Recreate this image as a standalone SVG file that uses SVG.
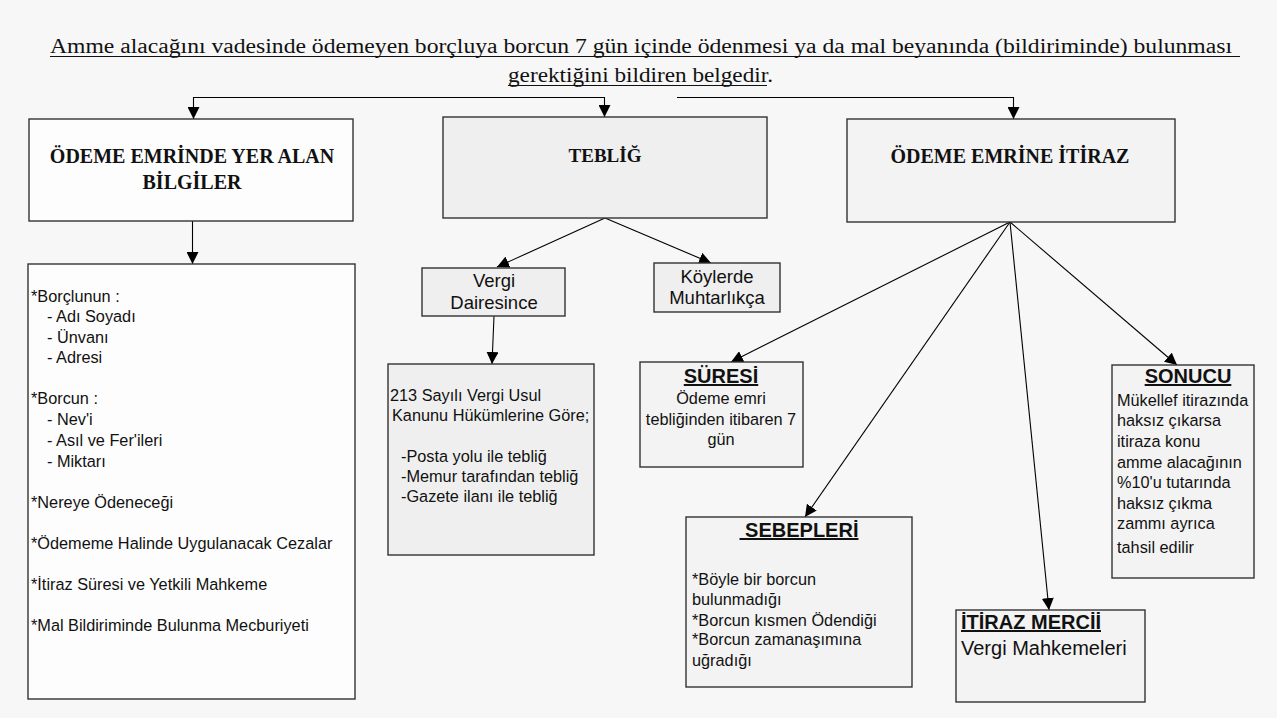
<svg xmlns="http://www.w3.org/2000/svg" width="1277" height="718" viewBox="0 0 1277 718">
  <defs>
    <marker id="arrow" viewBox="0 0 10 10" refX="10" refY="5" markerWidth="12" markerHeight="12" markerUnits="userSpaceOnUse" orient="auto">
      <path d="M0,0 L10,5 L0,10 z" fill="#000"/>
    </marker>
    <style>
      .box { stroke: #333; stroke-width: 1.4; }
      .white { fill: #fdfdfd; }
      .grey { fill: #efefef; }
      .light { fill: #f3f3f3; }
      .head { font-family: "Liberation Serif", "Times New Roman", serif; font-weight: bold; font-size: 20px; fill: #111; text-anchor: middle; }
      .title { font-family: "Liberation Serif", "Times New Roman", serif; font-size: 20px; fill: #111; }
      .body { font-family: "Liberation Sans", Arial, sans-serif; font-size: 16.3px; fill: #111; }
      .mid { text-anchor: middle; }
      .big { font-size: 18.5px; }
      .cap { font-family: "Liberation Sans", Arial, sans-serif; font-weight: bold; font-size: 20px; fill: #111; text-decoration: underline; }
      .conn { fill: none; stroke: #000; stroke-width: 1.1; marker-end: url(#arrow); }
      .uline { stroke: #111; stroke-width: 1.2; }
    </style>
  </defs>

  <rect x="0" y="0" width="1277" height="718" fill="#f7f7f7"/>

  <!-- heading sentence -->
  <g id="heading">
    <text class="title" x="50" y="53" textLength="1182" lengthAdjust="spacingAndGlyphs">Amme alacağını vadesinde ödemeyen borçluya borcun 7 gün içinde ödenmesi ya da mal beyanında (bildiriminde) bulunması</text>
    <line class="uline" x1="50" y1="56.5" x2="1240" y2="56.5"/>
    <text class="title" x="508" y="82" textLength="265" lengthAdjust="spacingAndGlyphs">gerektiğini bildiren belgedir.</text>
    <line class="uline" x1="508" y1="85.5" x2="767" y2="85.5"/>
  </g>

  <!-- connectors -->
  <g id="connectors">
    <path class="conn" d="M400,97.5 H193.5 V119"/>
    <path class="conn" d="M400,97.5 H604.5 V117"/>
    <path class="conn" d="M677,97.5 H1013.5 V119"/>
    <path class="conn" d="M192.5,221 V264"/>
    <path class="conn" d="M605,218 L497,267"/>
    <path class="conn" d="M605,218 L711,263"/>
    <path class="conn" d="M494,316 L492,364"/>
    <path class="conn" d="M1010,222 L731,362"/>
    <path class="conn" d="M1010,222 L805,517"/>
    <path class="conn" d="M1010,222 L1049,610"/>
    <path class="conn" d="M1010,222 L1177,365"/>
  </g>

  <g id="odeme-emrinde">
    <rect class="box white" x="29" y="119" width="324" height="102"/>
    <text class="head" x="192" y="163">ÖDEME EMRİNDE YER ALAN</text>
    <text class="head" x="192" y="189">BİLGİLER</text>
  </g>

  <g id="bilgiler">
    <rect class="box white" x="28" y="264" width="327" height="435"/>
    <text class="body" x="31" y="302">*Borçlunun :</text>
    <text class="body" x="47" y="322">- Adı Soyadı</text>
    <text class="body" x="47" y="343">- Ünvanı</text>
    <text class="body" x="47" y="363">- Adresi</text>
    <text class="body" x="31" y="404">*Borcun :</text>
    <text class="body" x="47" y="425">- Nev'i</text>
    <text class="body" x="47" y="446">- Asıl ve Fer'ileri</text>
    <text class="body" x="47" y="467">- Miktarı</text>
    <text class="body" x="31" y="508">*Nereye Ödeneceği</text>
    <text class="body" x="31" y="549">*Ödememe Halinde Uygulanacak Cezalar</text>
    <text class="body" x="31" y="590">*İtiraz Süresi ve Yetkili Mahkeme</text>
    <text class="body" x="31" y="631">*Mal Bildiriminde Bulunma Mecburiyeti</text>
  </g>

  <g id="teblig">
    <rect class="box grey" x="443" y="117" width="324" height="101"/>
    <text class="head" x="605" y="162" style="font-size:19px">TEBLİĞ</text>
  </g>

  <g id="vergi-dairesince">
    <rect class="box grey" x="422" y="268" width="143" height="48"/>
    <text class="body big mid" x="494" y="287">Vergi</text>
    <text class="body big mid" x="494" y="309">Dairesince</text>
  </g>

  <g id="koylerde">
    <rect class="box grey" x="654" y="263" width="126" height="49"/>
    <text class="body big mid" x="717" y="283">Köylerde</text>
    <text class="body big mid" x="717" y="304">Muhtarlıkça</text>
  </g>

  <g id="teblig-yollari">
    <rect class="box grey" x="388" y="364" width="206" height="191"/>
    <text class="body" x="390" y="401">213 Sayılı Vergi Usul</text>
    <text class="body" x="392" y="421">Kanunu Hükümlerine Göre;</text>
    <text class="body" x="401" y="462">-Posta yolu ile tebliğ</text>
    <text class="body" x="401" y="482">-Memur tarafından tebliğ</text>
    <text class="body" x="401" y="502">-Gazete ilanı ile tebliğ</text>
  </g>

  <g id="itiraz">
    <rect class="box light" x="847" y="119" width="328" height="103"/>
    <text class="head" x="1010" y="163">ÖDEME EMRİNE İTİRAZ</text>
  </g>

  <g id="suresi">
    <rect class="box light" x="640" y="362" width="163" height="105"/>
    <text class="cap mid" x="721" y="383">SÜRESİ</text>
    <text class="body mid" x="721" y="404">Ödeme emri</text>
    <text class="body mid" x="721" y="425">tebliğinden itibaren 7</text>
    <text class="body mid" x="721" y="445">gün</text>
  </g>

  <g id="sebepleri">
    <rect class="box light" x="686" y="517" width="226" height="170"/>
    <text class="cap mid" x="799" y="537">&#160;SEBEPLERİ</text>
    <text class="body" x="692" y="585">*Böyle bir borcun</text>
    <text class="body" x="692" y="605">bulunmadığı</text>
    <text class="body" x="692" y="626">*Borcun kısmen Ödendiği</text>
    <text class="body" x="692" y="645">*Borcun zamanaşımına</text>
    <text class="body" x="692" y="666">uğradığı</text>
  </g>

  <g id="itiraz-mercii">
    <rect class="box light" x="956" y="610" width="189" height="92"/>
    <text class="cap" x="961" y="629">İTİRAZ MERCİİ</text>
    <text class="body" x="961" y="655" style="font-size:20px">Vergi Mahkemeleri</text>
  </g>

  <g id="sonucu">
    <rect class="box light" x="1112" y="365" width="142" height="213"/>
    <text class="cap mid" x="1188" y="383">SONUCU</text>
    <text class="body" x="1117" y="406">Mükellef itirazında</text>
    <text class="body" x="1117" y="426">haksız çıkarsa</text>
    <text class="body" x="1117" y="447">itiraza konu</text>
    <text class="body" x="1117" y="468">amme alacağının</text>
    <text class="body" x="1117" y="488">%10'u tutarında</text>
    <text class="body" x="1117" y="509">haksız çıkma</text>
    <text class="body" x="1117" y="529">zammı ayrıca</text>
    <text class="body" x="1117" y="553">tahsil edilir</text>
  </g>
</svg>
